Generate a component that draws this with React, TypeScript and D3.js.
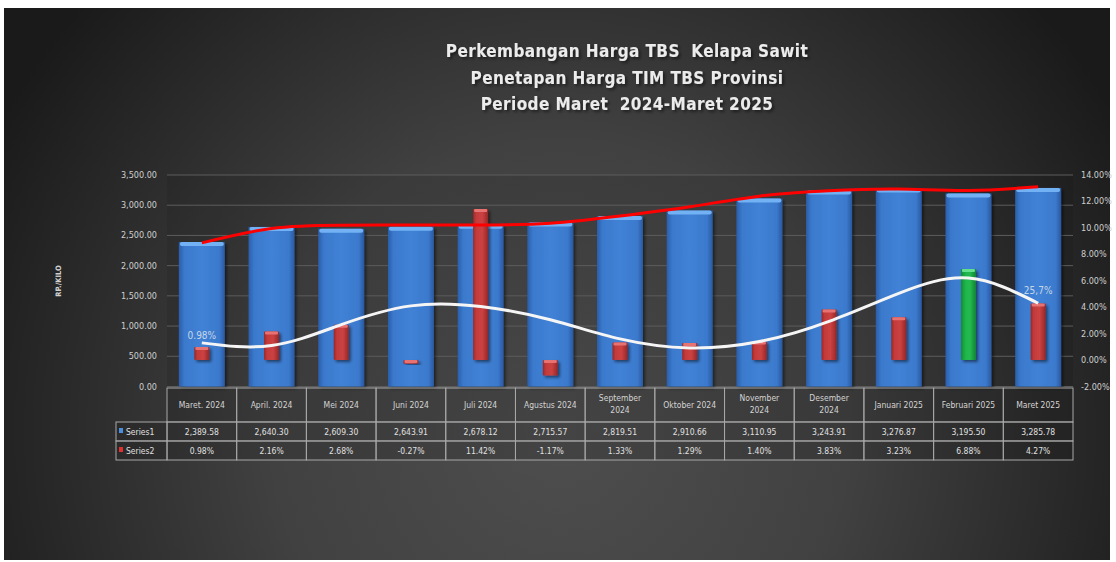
import * as d3 from 'd3';

const categories = [
  ['Maret. 2024'],
  ['April. 2024'],
  ['Mei 2024'],
  ['Juni 2024'],
  ['Juli 2024'],
  ['Agustus 2024'],
  ['September', '2024'],
  ['Oktober 2024'],
  ['November', '2024'],
  ['Desember', '2024'],
  ['Januari 2025'],
  ['Februari 2025'],
  ['Maret 2025'],
];
const series1 = [2389.58, 2640.3, 2609.3, 2643.91, 2678.12, 2715.57, 2819.51, 2910.66, 3110.95, 3243.91, 3276.87, 3195.5, 3285.78];
const series2 = [0.98, 2.16, 2.68, -0.27, 11.42, -1.17, 1.33, 1.29, 1.4, 3.83, 3.23, 6.88, 4.27];
// trendlines
const trend1 = [2377, 2615, 2668, 2672, 2672, 2700, 2820, 2974, 3150, 3240, 3267, 3244, 3306];
const trend2 = [1.3, 1.1, 2.68, 4.1, 4.05, 3.05, 1.6, 0.92, 1.4, 2.93, 5.05, 6.2, 4.3];
const leftTicks = [0, 500, 1000, 1500, 2000, 2500, 3000, 3500];
const rightTicks = [-2, 0, 2, 4, 6, 8, 10, 12, 14];
const titleLines = ['Perkembangan Harga TBS  Kelapa Sawit', 'Penetapan Harga TIM TBS Provinsi', 'Periode Maret  2024-Maret 2025'];
const highlightIndex = 11;

const W = 1116;
const H = 562;
const plot = { left: 167, right: 1073, top: 175, bottom: 386.5 };
const font = "'DejaVu Sans Condensed', 'DejaVu Sans', sans-serif";

export default function App() {
  const x = d3.scaleBand<number>().domain(d3.range(categories.length)).range([plot.left, plot.right]);
  const y = d3.scaleLinear().domain([0, 3500]).range([plot.bottom, plot.top]);
  const y2 = d3.scaleLinear().domain([-2, 14]).range([plot.bottom, plot.top]);
  const bw = x.bandwidth();
  const cx = (i: number) => (x(i) as number) + bw / 2;
  const fmt1 = d3.format(',.2f');
  const line1 = d3.line<number>().x((_, i) => cx(i)).y((d) => y(d)).curve(d3.curveNatural);
  const line2 = d3.line<number>().x((_, i) => cx(i)).y((d) => y2(d)).curve(d3.curveNatural);
  const blueW = bw * 0.66;
  const redW = 15;

  const rows = [
    { top: 388, h: 34 },
    { top: 422, h: 19 },
    { top: 441, h: 19 },
  ];

  return (
    <svg width={W} height={H} style={{ position: 'absolute', left: 0, top: 0 }} fontFamily={font}>
      <defs>
        <radialGradient id="bg" cx="560" cy="430" r="640" gradientUnits="userSpaceOnUse">
          <stop offset="0" stopColor="#4e4e4e" />
          <stop offset="0.45" stopColor="#414141" />
          <stop offset="1" stopColor="#1a1a1a" />
        </radialGradient>
        <linearGradient id="blue" x1="0" x2="1" y1="0" y2="0">
          <stop offset="0" stopColor="#2b5ea9" />
          <stop offset="0.12" stopColor="#3a79cc" />
          <stop offset="0.5" stopColor="#4182d6" />
          <stop offset="0.88" stopColor="#3a79cc" />
          <stop offset="1" stopColor="#2a58a0" />
        </linearGradient>
        <linearGradient id="red" x1="0" x2="1" y1="0" y2="0">
          <stop offset="0" stopColor="#9a2727" />
          <stop offset="0.2" stopColor="#c33a3a" />
          <stop offset="0.6" stopColor="#cc4242" />
          <stop offset="1" stopColor="#962626" />
        </linearGradient>
        <linearGradient id="green" x1="0" x2="1" y1="0" y2="0">
          <stop offset="0" stopColor="#138a36" />
          <stop offset="0.3" stopColor="#1fb54b" />
          <stop offset="0.6" stopColor="#23bb50" />
          <stop offset="1" stopColor="#128334" />
        </linearGradient>
        <filter id="shadow" x="-20%" y="-20%" width="150%" height="150%">
          <feDropShadow dx="2" dy="2" stdDeviation="1.5" floodColor="#000" floodOpacity="0.5" />
        </filter>
      </defs>

      <rect x={0} y={0} width={W} height={H} fill="#fff" />
      <rect x={4} y={8} width={1106} height={552} fill="url(#bg)" />

      {titleLines.map((t, i) => (
        <text
          key={i}
          x={627}
          y={57 + i * 26.5}
          textAnchor="middle"
          fontSize={17}
          fontWeight="bold"
          fill="#ececec"
          filter="url(#shadow)"
          style={{ fontStretch: 'condensed', letterSpacing: '0.4px', whiteSpace: 'pre' }}
        >
          {t}
        </text>
      ))}

      {/* plot area */}
      <rect x={plot.left} y={plot.top} width={plot.right - plot.left} height={plot.bottom - plot.top} fill="#000" opacity={0.08} />
      {leftTicks.map((t) => (
        <line key={t} x1={plot.left} x2={plot.right} y1={y(t)} y2={y(t)} stroke="#5c5c5c" strokeWidth={1} />
      ))}

      {leftTicks.map((t) => (
        <text key={t} x={157} y={y(t) + 3} textAnchor="end" fontSize={9} fill="#cfcfcf">
          {fmt1(t)}
        </text>
      ))}
      {rightTicks.map((t) => (
        <text key={t} x={1081} y={y2(t) + 3} textAnchor="start" fontSize={9} fill="#cfcfcf">
          {t.toFixed(2)}%
        </text>
      ))}
      <text x={0} y={0} transform="translate(61,281) rotate(-90)" textAnchor="middle" fontSize={7.5} fontWeight="bold" fill="#d0d0d0">
        RP./KILO
      </text>

      {/* series1 bars */}
      {series1.map((v, i) => {
        const bx = cx(i) - blueW / 2;
        const top = y(v);
        return (
          <g key={i} filter="url(#shadow)">
            <rect x={bx} y={top} width={blueW} height={plot.bottom - top} fill="url(#blue)" />
            <rect x={bx + 1} y={top} width={blueW - 2} height={4} fill="#72b2f4" rx={2} />
          </g>
        );
      })}

      {/* series2 bars */}
      {series2.map((v, i) => {
        const bx = cx(i) - redW / 2;
        const top = Math.min(y2(v), y2(0));
        const hgt = Math.max(Math.abs(y2(v) - y2(0)), 1);
        const isG = i === highlightIndex;
        return (
          <g key={i} filter="url(#shadow)">
            <rect x={bx} y={top} width={redW} height={hgt} fill={isG ? 'url(#green)' : 'url(#red)'} rx={1} />
            <rect x={bx + 1} y={top} width={redW - 2} height={Math.min(3, hgt)} fill={isG ? '#63e08d' : '#e77272'} rx={1} />
          </g>
        );
      })}

      <path d={line1(trend1) as string} fill="none" stroke="#ff0000" strokeWidth={3} />
      <path d={line2(trend2) as string} fill="none" stroke="#f5f5f5" strokeWidth={3} />

      <text x={cx(0)} y={339} textAnchor="middle" fontSize={10} fill="#c6d6e6">
        0.98%
      </text>
      <text x={cx(12) + 0} y={294} textAnchor="middle" fontSize={10} fill="#c6d6e6">
        25,7%
      </text>

      {/* data table */}
      <g stroke="#a8a8a8" strokeWidth={1} fill="none">
        {rows.map((r, ri) => (
          <g key={ri}>
            {categories.map((_, i) => (
              <rect key={i} x={x(i) as number} y={r.top} width={bw} height={r.h} fill="#000" fillOpacity={0.12} />
            ))}
            {ri > 0 && <rect x={116} y={r.top} width={plot.left - 116} height={r.h} fill="#000" fillOpacity={0.12} />}
          </g>
        ))}
      </g>
      {categories.map((lines, i) =>
        lines.map((l, li) => (
          <text
            key={i + '-' + li}
            x={cx(i)}
            y={lines.length === 1 ? 408 : 401 + li * 12}
            textAnchor="middle"
            fontSize={8.5}
            fill="#d4d4d4"
          >
            {l}
          </text>
        ))
      )}
      {series1.map((v, i) => (
        <text key={i} x={cx(i)} y={435} textAnchor="middle" fontSize={8.5} fill="#e0e0e0">
          {fmt1(v)}
        </text>
      ))}
      {series2.map((v, i) => (
        <text key={i} x={cx(i)} y={454} textAnchor="middle" fontSize={8.5} fill="#e0e0e0">
          {v.toFixed(2)}%
        </text>
      ))}
      <rect x={119} y={428} width={4} height={5} fill="#4a8ee0" />
      <text x={126} y={435} fontSize={8.5} fill="#e0e0e0">Series1</text>
      <rect x={119} y={447} width={4} height={5} fill="#e03030" />
      <text x={126} y={454} fontSize={8.5} fill="#e0e0e0">Series2</text>
    </svg>
  );
}
